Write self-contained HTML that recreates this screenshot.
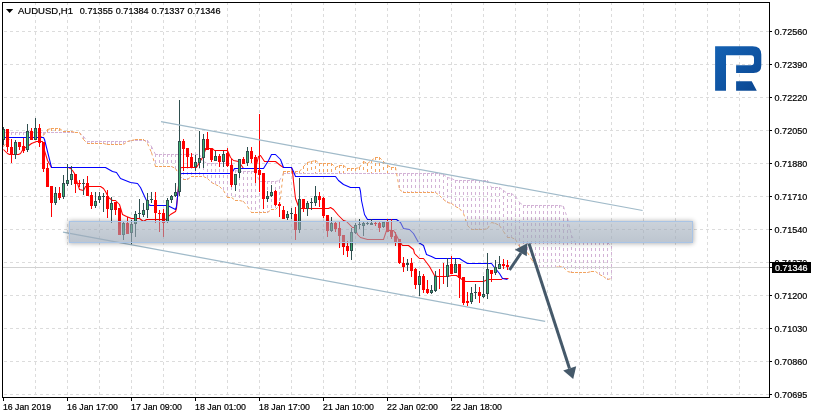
<!DOCTYPE html>
<html><head><meta charset="utf-8"><title>AUDUSD,H1</title>
<style>html,body{margin:0;padding:0;background:#fff}svg{display:block}text{stroke:#000;stroke-width:0.22px;font-family:"Liberation Sans",Arial,sans-serif;font-size:9.6px}</style></head><body>
<svg width="815" height="418" viewBox="0 0 815 418">
<defs>
<linearGradient id="lg" x1="0" y1="0" x2="1" y2="1"><stop offset="0" stop-color="#1461b2"/><stop offset="0.5" stop-color="#0f55a4"/><stop offset="1" stop-color="#0b4690"/></linearGradient>
<filter id="sh" x="-5%" y="-50%" width="110%" height="200%"><feGaussianBlur stdDeviation="2.5"/></filter>
<linearGradient id="rg" x1="0" y1="0" x2="0" y2="1"><stop offset="0" stop-color="rgb(155,168,183)" stop-opacity="0.52"/><stop offset="1" stop-color="rgb(155,168,183)" stop-opacity="0.66"/></linearGradient>
</defs>
<rect width="815" height="418" fill="#fff"/>
<g stroke="#dcdcdc" stroke-width="1" stroke-dasharray="3 3" shape-rendering="crispEdges"><line x1="35.5" y1="2" x2="35.5" y2="397" /><line x1="67.5" y1="2" x2="67.5" y2="397" /><line x1="99.5" y1="2" x2="99.5" y2="397" /><line x1="131.5" y1="2" x2="131.5" y2="397" /><line x1="163.5" y1="2" x2="163.5" y2="397" /><line x1="195.5" y1="2" x2="195.5" y2="397" /><line x1="227.5" y1="2" x2="227.5" y2="397" /><line x1="259.5" y1="2" x2="259.5" y2="397" /><line x1="291.5" y1="2" x2="291.5" y2="397" /><line x1="323.5" y1="2" x2="323.5" y2="397" /><line x1="355.5" y1="2" x2="355.5" y2="397" /><line x1="387.5" y1="2" x2="387.5" y2="397" /><line x1="419.5" y1="2" x2="419.5" y2="397" /><line x1="451.5" y1="2" x2="451.5" y2="397" /><line x1="483.5" y1="2" x2="483.5" y2="397" /><line x1="515.5" y1="2" x2="515.5" y2="397" /><line x1="547.5" y1="2" x2="547.5" y2="397" /><line x1="579.5" y1="2" x2="579.5" y2="397" /><line x1="611.5" y1="2" x2="611.5" y2="397" /><line x1="643.5" y1="2" x2="643.5" y2="397" /><line x1="675.5" y1="2" x2="675.5" y2="397" /><line x1="707.5" y1="2" x2="707.5" y2="397" /><line x1="739.5" y1="2" x2="739.5" y2="397" /><line x1="4" y1="31.5" x2="769" y2="31.5" /><line x1="4" y1="64.5" x2="769" y2="64.5" /><line x1="4" y1="97.5" x2="769" y2="97.5" /><line x1="4" y1="130.5" x2="769" y2="130.5" /><line x1="4" y1="163.5" x2="769" y2="163.5" /><line x1="4" y1="196.5" x2="769" y2="196.5" /><line x1="4" y1="229.5" x2="769" y2="229.5" /><line x1="4" y1="262.5" x2="769" y2="262.5" /><line x1="4" y1="295.5" x2="769" y2="295.5" /><line x1="4" y1="328.5" x2="769" y2="328.5" /><line x1="4" y1="361.5" x2="769" y2="361.5" /><line x1="4" y1="394.5" x2="769" y2="394.5" /></g>
<g stroke="#f2a35e" stroke-width="1" stroke-dasharray="3 3" shape-rendering="crispEdges"><line x1="47.5" y1="129" x2="47.5" y2="133"/><line x1="51.5" y1="128" x2="51.5" y2="133"/><line x1="55.5" y1="128" x2="55.5" y2="133"/><line x1="59.5" y1="128" x2="59.5" y2="133"/><line x1="63.5" y1="131" x2="63.5" y2="133"/><line x1="67.5" y1="131" x2="67.5" y2="133"/><line x1="71.5" y1="131" x2="71.5" y2="133"/><line x1="135.5" y1="139" x2="135.5" y2="141"/><line x1="139.5" y1="139" x2="139.5" y2="141"/><line x1="143.5" y1="139" x2="143.5" y2="141"/><line x1="283.5" y1="171" x2="283.5" y2="174"/><line x1="287.5" y1="171" x2="287.5" y2="174"/><line x1="291.5" y1="171" x2="291.5" y2="174"/><line x1="295.5" y1="171" x2="295.5" y2="174"/><line x1="299.5" y1="171" x2="299.5" y2="174"/><line x1="303.5" y1="166" x2="303.5" y2="174"/><line x1="307.5" y1="162" x2="307.5" y2="174"/><line x1="311.5" y1="161" x2="311.5" y2="174"/><line x1="315.5" y1="160" x2="315.5" y2="174"/><line x1="319.5" y1="163" x2="319.5" y2="174"/><line x1="323.5" y1="163" x2="323.5" y2="174"/><line x1="327.5" y1="163" x2="327.5" y2="174"/><line x1="331.5" y1="163" x2="331.5" y2="174"/><line x1="335.5" y1="167" x2="335.5" y2="174"/><line x1="339.5" y1="165" x2="339.5" y2="174"/><line x1="343.5" y1="165" x2="343.5" y2="174"/><line x1="347.5" y1="168" x2="347.5" y2="174"/><line x1="351.5" y1="168" x2="351.5" y2="174"/><line x1="355.5" y1="168" x2="355.5" y2="174"/><line x1="359.5" y1="167" x2="359.5" y2="174"/><line x1="363.5" y1="161" x2="363.5" y2="174"/><line x1="367.5" y1="163" x2="367.5" y2="174"/><line x1="371.5" y1="160" x2="371.5" y2="174"/><line x1="375.5" y1="157" x2="375.5" y2="174"/><line x1="379.5" y1="157" x2="379.5" y2="174"/><line x1="383.5" y1="161" x2="383.5" y2="174"/><line x1="387.5" y1="165" x2="387.5" y2="174"/><line x1="391.5" y1="167" x2="391.5" y2="174"/><line x1="395.5" y1="167" x2="395.5" y2="174"/></g>
<g stroke="#d3b3d6" stroke-width="1" stroke-dasharray="3 3" shape-rendering="crispEdges"><line x1="3.5" y1="132" x2="3.5" y2="147"/><line x1="7.5" y1="132" x2="7.5" y2="142"/><line x1="11.5" y1="132" x2="11.5" y2="138"/><line x1="15.5" y1="132" x2="15.5" y2="138"/><line x1="19.5" y1="132" x2="19.5" y2="138"/><line x1="23.5" y1="132" x2="23.5" y2="138"/><line x1="27.5" y1="132" x2="27.5" y2="138"/><line x1="31.5" y1="132" x2="31.5" y2="138"/><line x1="35.5" y1="132" x2="35.5" y2="138"/><line x1="39.5" y1="132" x2="39.5" y2="138"/><line x1="43.5" y1="132" x2="43.5" y2="136"/><line x1="83.5" y1="136" x2="83.5" y2="140"/><line x1="87.5" y1="141" x2="87.5" y2="144"/><line x1="91.5" y1="141" x2="91.5" y2="144"/><line x1="95.5" y1="141" x2="95.5" y2="144"/><line x1="99.5" y1="141" x2="99.5" y2="144"/><line x1="103.5" y1="141" x2="103.5" y2="144"/><line x1="107.5" y1="141" x2="107.5" y2="145"/><line x1="111.5" y1="141" x2="111.5" y2="145"/><line x1="115.5" y1="141" x2="115.5" y2="145"/><line x1="119.5" y1="141" x2="119.5" y2="145"/><line x1="123.5" y1="141" x2="123.5" y2="145"/><line x1="147.5" y1="140" x2="147.5" y2="144"/><line x1="151.5" y1="146" x2="151.5" y2="153"/><line x1="155.5" y1="154" x2="155.5" y2="167"/><line x1="159.5" y1="154" x2="159.5" y2="167"/><line x1="163.5" y1="154" x2="163.5" y2="167"/><line x1="167.5" y1="154" x2="167.5" y2="167"/><line x1="171.5" y1="154" x2="171.5" y2="167"/><line x1="175.5" y1="154" x2="175.5" y2="169"/><line x1="179.5" y1="154" x2="179.5" y2="176"/><line x1="183.5" y1="154" x2="183.5" y2="180"/><line x1="187.5" y1="154" x2="187.5" y2="180"/><line x1="191.5" y1="154" x2="191.5" y2="177"/><line x1="195.5" y1="154" x2="195.5" y2="177"/><line x1="199.5" y1="154" x2="199.5" y2="177"/><line x1="203.5" y1="161" x2="203.5" y2="177"/><line x1="207.5" y1="163" x2="207.5" y2="179"/><line x1="211.5" y1="163" x2="211.5" y2="183"/><line x1="215.5" y1="163" x2="215.5" y2="185"/><line x1="219.5" y1="163" x2="219.5" y2="187"/><line x1="223.5" y1="163" x2="223.5" y2="191"/><line x1="227.5" y1="163" x2="227.5" y2="198"/><line x1="231.5" y1="163" x2="231.5" y2="198"/><line x1="235.5" y1="170" x2="235.5" y2="201"/><line x1="239.5" y1="171" x2="239.5" y2="201"/><line x1="243.5" y1="171" x2="243.5" y2="202"/><line x1="247.5" y1="171" x2="247.5" y2="207"/><line x1="251.5" y1="171" x2="251.5" y2="213"/><line x1="255.5" y1="171" x2="255.5" y2="213"/><line x1="259.5" y1="181" x2="259.5" y2="213"/><line x1="263.5" y1="181" x2="263.5" y2="213"/><line x1="267.5" y1="181" x2="267.5" y2="213"/><line x1="271.5" y1="181" x2="271.5" y2="210"/><line x1="275.5" y1="181" x2="275.5" y2="210"/><line x1="279.5" y1="180" x2="279.5" y2="206"/><line x1="399.5" y1="173" x2="399.5" y2="190"/><line x1="403.5" y1="173" x2="403.5" y2="193"/><line x1="407.5" y1="173" x2="407.5" y2="193"/><line x1="411.5" y1="173" x2="411.5" y2="193"/><line x1="415.5" y1="173" x2="415.5" y2="193"/><line x1="419.5" y1="173" x2="419.5" y2="193"/><line x1="423.5" y1="173" x2="423.5" y2="193"/><line x1="427.5" y1="173" x2="427.5" y2="193"/><line x1="431.5" y1="173" x2="431.5" y2="193"/><line x1="435.5" y1="173" x2="435.5" y2="193"/><line x1="439.5" y1="173" x2="439.5" y2="196"/><line x1="443.5" y1="174" x2="443.5" y2="200"/><line x1="447.5" y1="177" x2="447.5" y2="203"/><line x1="451.5" y1="178" x2="451.5" y2="204"/><line x1="455.5" y1="180" x2="455.5" y2="207"/><line x1="459.5" y1="180" x2="459.5" y2="209"/><line x1="463.5" y1="180" x2="463.5" y2="214"/><line x1="467.5" y1="180" x2="467.5" y2="226"/><line x1="471.5" y1="180" x2="471.5" y2="230"/><line x1="475.5" y1="180" x2="475.5" y2="230"/><line x1="479.5" y1="180" x2="479.5" y2="230"/><line x1="483.5" y1="180" x2="483.5" y2="230"/><line x1="487.5" y1="180" x2="487.5" y2="229"/><line x1="491.5" y1="187" x2="491.5" y2="223"/><line x1="495.5" y1="187" x2="495.5" y2="224"/><line x1="499.5" y1="187" x2="499.5" y2="226"/><line x1="503.5" y1="190" x2="503.5" y2="232"/><line x1="507.5" y1="193" x2="507.5" y2="238"/><line x1="511.5" y1="193" x2="511.5" y2="238"/><line x1="515.5" y1="196" x2="515.5" y2="240"/><line x1="519.5" y1="202" x2="519.5" y2="247"/><line x1="523.5" y1="205" x2="523.5" y2="250"/><line x1="527.5" y1="205" x2="527.5" y2="253"/><line x1="531.5" y1="205" x2="531.5" y2="260"/><line x1="535.5" y1="205" x2="535.5" y2="265"/><line x1="539.5" y1="205" x2="539.5" y2="268"/><line x1="543.5" y1="205" x2="543.5" y2="268"/><line x1="547.5" y1="205" x2="547.5" y2="268"/><line x1="551.5" y1="205" x2="551.5" y2="268"/><line x1="555.5" y1="205" x2="555.5" y2="268"/><line x1="559.5" y1="205" x2="559.5" y2="267"/><line x1="563.5" y1="206" x2="563.5" y2="268"/><line x1="567.5" y1="218" x2="567.5" y2="272"/><line x1="571.5" y1="235" x2="571.5" y2="273"/><line x1="575.5" y1="242" x2="575.5" y2="273"/><line x1="579.5" y1="242" x2="579.5" y2="273"/><line x1="583.5" y1="242" x2="583.5" y2="273"/><line x1="587.5" y1="242" x2="587.5" y2="273"/><line x1="591.5" y1="242" x2="591.5" y2="272"/><line x1="595.5" y1="242" x2="595.5" y2="272"/><line x1="599.5" y1="242" x2="599.5" y2="275"/><line x1="603.5" y1="242" x2="603.5" y2="277"/><line x1="607.5" y1="242" x2="607.5" y2="280"/><line x1="611.5" y1="246" x2="611.5" y2="279"/></g>
<g stroke="#d3b3d6" stroke-width="1" stroke-dasharray="3 3" fill="none"><line x1="3" y1="132.5" x2="7" y2="132.5"/><line x1="7" y1="132.5" x2="11" y2="132.5"/><line x1="11" y1="132.5" x2="15" y2="132.5"/><line x1="15" y1="132.5" x2="19" y2="132.5"/><line x1="19" y1="132.5" x2="23" y2="132.5"/><line x1="23" y1="132.5" x2="27" y2="132.5"/><line x1="27" y1="132.5" x2="31" y2="132.5"/><line x1="31" y1="132.5" x2="35" y2="132.5"/><line x1="35" y1="132.5" x2="39" y2="132.5"/><line x1="39" y1="132.5" x2="43" y2="132.5"/><line x1="43" y1="132.5" x2="47" y2="132.5"/><line x1="47" y1="132.5" x2="51" y2="132.5"/><line x1="51" y1="132.5" x2="55" y2="132.5"/><line x1="55" y1="132.5" x2="59" y2="132.5"/><line x1="59" y1="132.5" x2="63" y2="132.5"/><line x1="63" y1="132.5" x2="67" y2="132.5"/><line x1="67" y1="132.5" x2="71" y2="132.5"/><line x1="71" y1="132.5" x2="75" y2="132.5"/><line x1="75" y1="132.5" x2="79" y2="132.5"/><line x1="79.5" y1="132.5" x2="83.5" y2="136.5"/><line x1="83.5" y1="136.5" x2="87.5" y2="141.5"/><line x1="87" y1="141.5" x2="91" y2="141.5"/><line x1="91" y1="141.5" x2="95" y2="141.5"/><line x1="95" y1="141.5" x2="99" y2="141.5"/><line x1="99" y1="141.5" x2="103" y2="141.5"/><line x1="103" y1="141.5" x2="107" y2="141.5"/><line x1="107" y1="141.5" x2="111" y2="141.5"/><line x1="111" y1="141.5" x2="115" y2="141.5"/><line x1="115" y1="141.5" x2="119" y2="141.5"/><line x1="119" y1="141.5" x2="123" y2="141.5"/><line x1="123" y1="141.5" x2="127" y2="141.5"/><line x1="127.5" y1="141.5" x2="131.5" y2="140.5"/><line x1="131" y1="140.5" x2="135" y2="140.5"/><line x1="135" y1="140.5" x2="139" y2="140.5"/><line x1="139" y1="140.5" x2="143" y2="140.5"/><line x1="143" y1="140.5" x2="147" y2="140.5"/><line x1="147.5" y1="140.5" x2="151.5" y2="146.5"/><line x1="151.5" y1="146.5" x2="155.5" y2="154.5"/><line x1="155" y1="154.5" x2="159" y2="154.5"/><line x1="159" y1="154.5" x2="163" y2="154.5"/><line x1="163" y1="154.5" x2="167" y2="154.5"/><line x1="167" y1="154.5" x2="171" y2="154.5"/><line x1="171" y1="154.5" x2="175" y2="154.5"/><line x1="175" y1="154.5" x2="179" y2="154.5"/><line x1="179" y1="154.5" x2="183" y2="154.5"/><line x1="183" y1="154.5" x2="187" y2="154.5"/><line x1="187" y1="154.5" x2="191" y2="154.5"/><line x1="191" y1="154.5" x2="195" y2="154.5"/><line x1="195" y1="154.5" x2="199" y2="154.5"/><line x1="199.5" y1="154.5" x2="203.5" y2="161.5"/><line x1="203.5" y1="161.5" x2="207.5" y2="163.5"/><line x1="207" y1="163.5" x2="211" y2="163.5"/><line x1="211" y1="163.5" x2="215" y2="163.5"/><line x1="215" y1="163.5" x2="219" y2="163.5"/><line x1="219" y1="163.5" x2="223" y2="163.5"/><line x1="223" y1="163.5" x2="227" y2="163.5"/><line x1="227" y1="163.5" x2="231" y2="163.5"/><line x1="231.5" y1="163.5" x2="235.5" y2="170.5"/><line x1="235.5" y1="170.5" x2="239.5" y2="171.5"/><line x1="239" y1="171.5" x2="243" y2="171.5"/><line x1="243" y1="171.5" x2="247" y2="171.5"/><line x1="247" y1="171.5" x2="251" y2="171.5"/><line x1="251" y1="171.5" x2="255" y2="171.5"/><line x1="255.5" y1="171.5" x2="259.5" y2="181.5"/><line x1="259" y1="181.5" x2="263" y2="181.5"/><line x1="263" y1="181.5" x2="267" y2="181.5"/><line x1="267" y1="181.5" x2="271" y2="181.5"/><line x1="271" y1="181.5" x2="275" y2="181.5"/><line x1="275.5" y1="181.5" x2="279.5" y2="180.5"/><line x1="279.5" y1="180.5" x2="283.5" y2="173.5"/><line x1="283" y1="173.5" x2="287" y2="173.5"/><line x1="287" y1="173.5" x2="291" y2="173.5"/><line x1="291" y1="173.5" x2="295" y2="173.5"/><line x1="295" y1="173.5" x2="299" y2="173.5"/><line x1="299" y1="173.5" x2="303" y2="173.5"/><line x1="303" y1="173.5" x2="307" y2="173.5"/><line x1="307" y1="173.5" x2="311" y2="173.5"/><line x1="311" y1="173.5" x2="315" y2="173.5"/><line x1="315" y1="173.5" x2="319" y2="173.5"/><line x1="319" y1="173.5" x2="323" y2="173.5"/><line x1="323" y1="173.5" x2="327" y2="173.5"/><line x1="327" y1="173.5" x2="331" y2="173.5"/><line x1="331" y1="173.5" x2="335" y2="173.5"/><line x1="335" y1="173.5" x2="339" y2="173.5"/><line x1="339" y1="173.5" x2="343" y2="173.5"/><line x1="343" y1="173.5" x2="347" y2="173.5"/><line x1="347" y1="173.5" x2="351" y2="173.5"/><line x1="351" y1="173.5" x2="355" y2="173.5"/><line x1="355" y1="173.5" x2="359" y2="173.5"/><line x1="359" y1="173.5" x2="363" y2="173.5"/><line x1="363" y1="173.5" x2="367" y2="173.5"/><line x1="367" y1="173.5" x2="371" y2="173.5"/><line x1="371" y1="173.5" x2="375" y2="173.5"/><line x1="375" y1="173.5" x2="379" y2="173.5"/><line x1="379" y1="173.5" x2="383" y2="173.5"/><line x1="383" y1="173.5" x2="387" y2="173.5"/><line x1="387" y1="173.5" x2="391" y2="173.5"/><line x1="391" y1="173.5" x2="395" y2="173.5"/><line x1="395" y1="173.5" x2="399" y2="173.5"/><line x1="399" y1="173.5" x2="403" y2="173.5"/><line x1="403" y1="173.5" x2="407" y2="173.5"/><line x1="407" y1="173.5" x2="411" y2="173.5"/><line x1="411" y1="173.5" x2="415" y2="173.5"/><line x1="415" y1="173.5" x2="419" y2="173.5"/><line x1="419" y1="173.5" x2="423" y2="173.5"/><line x1="423" y1="173.5" x2="427" y2="173.5"/><line x1="427" y1="173.5" x2="431" y2="173.5"/><line x1="431" y1="173.5" x2="435" y2="173.5"/><line x1="435" y1="173.5" x2="439" y2="173.5"/><line x1="439.5" y1="173.5" x2="443.5" y2="174.5"/><line x1="443.5" y1="174.5" x2="447.5" y2="177.5"/><line x1="447.5" y1="177.5" x2="451.5" y2="178.5"/><line x1="451.5" y1="178.5" x2="455.5" y2="180.5"/><line x1="455" y1="180.5" x2="459" y2="180.5"/><line x1="459" y1="180.5" x2="463" y2="180.5"/><line x1="463" y1="180.5" x2="467" y2="180.5"/><line x1="467" y1="180.5" x2="471" y2="180.5"/><line x1="471" y1="180.5" x2="475" y2="180.5"/><line x1="475" y1="180.5" x2="479" y2="180.5"/><line x1="479" y1="180.5" x2="483" y2="180.5"/><line x1="483" y1="180.5" x2="487" y2="180.5"/><line x1="487.5" y1="180.5" x2="491.5" y2="187.5"/><line x1="491" y1="187.5" x2="495" y2="187.5"/><line x1="495" y1="187.5" x2="499" y2="187.5"/><line x1="499.5" y1="187.5" x2="503.5" y2="190.5"/><line x1="503.5" y1="190.5" x2="507.5" y2="193.5"/><line x1="507" y1="193.5" x2="511" y2="193.5"/><line x1="511.5" y1="193.5" x2="515.5" y2="196.5"/><line x1="515.5" y1="196.5" x2="519.5" y2="202.5"/><line x1="519.5" y1="202.5" x2="523.5" y2="205.5"/><line x1="523" y1="205.5" x2="527" y2="205.5"/><line x1="527" y1="205.5" x2="531" y2="205.5"/><line x1="531" y1="205.5" x2="535" y2="205.5"/><line x1="535" y1="205.5" x2="539" y2="205.5"/><line x1="539" y1="205.5" x2="543" y2="205.5"/><line x1="543" y1="205.5" x2="547" y2="205.5"/><line x1="547" y1="205.5" x2="551" y2="205.5"/><line x1="551" y1="205.5" x2="555" y2="205.5"/><line x1="555" y1="205.5" x2="559" y2="205.5"/><line x1="559.5" y1="205.5" x2="563.5" y2="206.5"/><line x1="563.5" y1="206.5" x2="567.5" y2="218.5"/><line x1="567.5" y1="218.5" x2="571.5" y2="235.5"/><line x1="571.5" y1="235.5" x2="575.5" y2="242.5"/><line x1="575" y1="242.5" x2="579" y2="242.5"/><line x1="579" y1="242.5" x2="583" y2="242.5"/><line x1="583" y1="242.5" x2="587" y2="242.5"/><line x1="587" y1="242.5" x2="591" y2="242.5"/><line x1="591" y1="242.5" x2="595" y2="242.5"/><line x1="595" y1="242.5" x2="599" y2="242.5"/><line x1="599" y1="242.5" x2="603" y2="242.5"/><line x1="603" y1="242.5" x2="607" y2="242.5"/><line x1="607.5" y1="242.5" x2="611.5" y2="246.5"/></g>
<g stroke="#f2a35e" stroke-width="1" stroke-dasharray="3 3" fill="none"><line x1="3.5" y1="146.5" x2="7.5" y2="141.5"/><line x1="7.5" y1="141.5" x2="11.5" y2="137.5"/><line x1="11" y1="137.5" x2="15" y2="137.5"/><line x1="15" y1="137.5" x2="19" y2="137.5"/><line x1="19" y1="137.5" x2="23" y2="137.5"/><line x1="23" y1="137.5" x2="27" y2="137.5"/><line x1="27" y1="137.5" x2="31" y2="137.5"/><line x1="31" y1="137.5" x2="35" y2="137.5"/><line x1="35" y1="137.5" x2="39" y2="137.5"/><line x1="39.5" y1="137.5" x2="43.5" y2="135.5"/><line x1="43.5" y1="135.5" x2="47.5" y2="129.5"/><line x1="47.5" y1="129.5" x2="51.5" y2="128.5"/><line x1="51" y1="128.5" x2="55" y2="128.5"/><line x1="55" y1="128.5" x2="59" y2="128.5"/><line x1="59.5" y1="128.5" x2="63.5" y2="131.5"/><line x1="63" y1="131.5" x2="67" y2="131.5"/><line x1="67" y1="131.5" x2="71" y2="131.5"/><line x1="71.5" y1="131.5" x2="75.5" y2="132.5"/><line x1="75" y1="132.5" x2="79" y2="132.5"/><line x1="79.5" y1="132.5" x2="83.5" y2="139.5"/><line x1="83.5" y1="139.5" x2="87.5" y2="143.5"/><line x1="87" y1="143.5" x2="91" y2="143.5"/><line x1="91" y1="143.5" x2="95" y2="143.5"/><line x1="95" y1="143.5" x2="99" y2="143.5"/><line x1="99" y1="143.5" x2="103" y2="143.5"/><line x1="103.5" y1="143.5" x2="107.5" y2="144.5"/><line x1="107" y1="144.5" x2="111" y2="144.5"/><line x1="111" y1="144.5" x2="115" y2="144.5"/><line x1="115" y1="144.5" x2="119" y2="144.5"/><line x1="119" y1="144.5" x2="123" y2="144.5"/><line x1="123.5" y1="144.5" x2="127.5" y2="141.5"/><line x1="127.5" y1="141.5" x2="131.5" y2="140.5"/><line x1="131.5" y1="140.5" x2="135.5" y2="139.5"/><line x1="135" y1="139.5" x2="139" y2="139.5"/><line x1="139" y1="139.5" x2="143" y2="139.5"/><line x1="143.5" y1="139.5" x2="147.5" y2="143.5"/><line x1="147.5" y1="143.5" x2="151.5" y2="152.5"/><line x1="151.5" y1="152.5" x2="155.5" y2="166.5"/><line x1="155" y1="166.5" x2="159" y2="166.5"/><line x1="159" y1="166.5" x2="163" y2="166.5"/><line x1="163" y1="166.5" x2="167" y2="166.5"/><line x1="167" y1="166.5" x2="171" y2="166.5"/><line x1="171.5" y1="166.5" x2="175.5" y2="168.5"/><line x1="175.5" y1="168.5" x2="179.5" y2="175.5"/><line x1="179.5" y1="175.5" x2="183.5" y2="179.5"/><line x1="183" y1="179.5" x2="187" y2="179.5"/><line x1="187.5" y1="179.5" x2="191.5" y2="176.5"/><line x1="191" y1="176.5" x2="195" y2="176.5"/><line x1="195" y1="176.5" x2="199" y2="176.5"/><line x1="199" y1="176.5" x2="203" y2="176.5"/><line x1="203.5" y1="176.5" x2="207.5" y2="178.5"/><line x1="207.5" y1="178.5" x2="211.5" y2="182.5"/><line x1="211.5" y1="182.5" x2="215.5" y2="184.5"/><line x1="215.5" y1="184.5" x2="219.5" y2="186.5"/><line x1="219.5" y1="186.5" x2="223.5" y2="190.5"/><line x1="223.5" y1="190.5" x2="227.5" y2="197.5"/><line x1="227" y1="197.5" x2="231" y2="197.5"/><line x1="231.5" y1="197.5" x2="235.5" y2="200.5"/><line x1="235" y1="200.5" x2="239" y2="200.5"/><line x1="239.5" y1="200.5" x2="243.5" y2="201.5"/><line x1="243.5" y1="201.5" x2="247.5" y2="206.5"/><line x1="247.5" y1="206.5" x2="251.5" y2="212.5"/><line x1="251" y1="212.5" x2="255" y2="212.5"/><line x1="255" y1="212.5" x2="259" y2="212.5"/><line x1="259" y1="212.5" x2="263" y2="212.5"/><line x1="263" y1="212.5" x2="267" y2="212.5"/><line x1="267.5" y1="212.5" x2="271.5" y2="209.5"/><line x1="271" y1="209.5" x2="275" y2="209.5"/><line x1="275.5" y1="209.5" x2="279.5" y2="205.5"/><line x1="279.5" y1="205.5" x2="283.5" y2="171.5"/><line x1="283" y1="171.5" x2="287" y2="171.5"/><line x1="287" y1="171.5" x2="291" y2="171.5"/><line x1="291" y1="171.5" x2="295" y2="171.5"/><line x1="295" y1="171.5" x2="299" y2="171.5"/><line x1="299.5" y1="171.5" x2="303.5" y2="166.5"/><line x1="303.5" y1="166.5" x2="307.5" y2="162.5"/><line x1="307.5" y1="162.5" x2="311.5" y2="161.5"/><line x1="311.5" y1="161.5" x2="315.5" y2="160.5"/><line x1="315.5" y1="160.5" x2="319.5" y2="163.5"/><line x1="319" y1="163.5" x2="323" y2="163.5"/><line x1="323" y1="163.5" x2="327" y2="163.5"/><line x1="327" y1="163.5" x2="331" y2="163.5"/><line x1="331.5" y1="163.5" x2="335.5" y2="167.5"/><line x1="335.5" y1="167.5" x2="339.5" y2="165.5"/><line x1="339" y1="165.5" x2="343" y2="165.5"/><line x1="343.5" y1="165.5" x2="347.5" y2="168.5"/><line x1="347" y1="168.5" x2="351" y2="168.5"/><line x1="351" y1="168.5" x2="355" y2="168.5"/><line x1="355.5" y1="168.5" x2="359.5" y2="167.5"/><line x1="359.5" y1="167.5" x2="363.5" y2="161.5"/><line x1="363.5" y1="161.5" x2="367.5" y2="163.5"/><line x1="367.5" y1="163.5" x2="371.5" y2="160.5"/><line x1="371.5" y1="160.5" x2="375.5" y2="157.5"/><line x1="375" y1="157.5" x2="379" y2="157.5"/><line x1="379.5" y1="157.5" x2="383.5" y2="161.5"/><line x1="383.5" y1="161.5" x2="387.5" y2="165.5"/><line x1="387.5" y1="165.5" x2="391.5" y2="167.5"/><line x1="391" y1="167.5" x2="395" y2="167.5"/><line x1="395.5" y1="167.5" x2="399.5" y2="189.5"/><line x1="399.5" y1="189.5" x2="403.5" y2="192.5"/><line x1="403" y1="192.5" x2="407" y2="192.5"/><line x1="407" y1="192.5" x2="411" y2="192.5"/><line x1="411" y1="192.5" x2="415" y2="192.5"/><line x1="415" y1="192.5" x2="419" y2="192.5"/><line x1="419" y1="192.5" x2="423" y2="192.5"/><line x1="423" y1="192.5" x2="427" y2="192.5"/><line x1="427" y1="192.5" x2="431" y2="192.5"/><line x1="431" y1="192.5" x2="435" y2="192.5"/><line x1="435.5" y1="192.5" x2="439.5" y2="195.5"/><line x1="439.5" y1="195.5" x2="443.5" y2="199.5"/><line x1="443.5" y1="199.5" x2="447.5" y2="202.5"/><line x1="447.5" y1="202.5" x2="451.5" y2="203.5"/><line x1="451.5" y1="203.5" x2="455.5" y2="206.5"/><line x1="455.5" y1="206.5" x2="459.5" y2="208.5"/><line x1="459.5" y1="208.5" x2="463.5" y2="213.5"/><line x1="463.5" y1="213.5" x2="467.5" y2="225.5"/><line x1="467.5" y1="225.5" x2="471.5" y2="229.5"/><line x1="471" y1="229.5" x2="475" y2="229.5"/><line x1="475" y1="229.5" x2="479" y2="229.5"/><line x1="479" y1="229.5" x2="483" y2="229.5"/><line x1="483.5" y1="229.5" x2="487.5" y2="228.5"/><line x1="487.5" y1="228.5" x2="491.5" y2="222.5"/><line x1="491.5" y1="222.5" x2="495.5" y2="223.5"/><line x1="495.5" y1="223.5" x2="499.5" y2="225.5"/><line x1="499.5" y1="225.5" x2="503.5" y2="231.5"/><line x1="503.5" y1="231.5" x2="507.5" y2="237.5"/><line x1="507" y1="237.5" x2="511" y2="237.5"/><line x1="511.5" y1="237.5" x2="515.5" y2="239.5"/><line x1="515.5" y1="239.5" x2="519.5" y2="246.5"/><line x1="519.5" y1="246.5" x2="523.5" y2="249.5"/><line x1="523.5" y1="249.5" x2="527.5" y2="252.5"/><line x1="527.5" y1="252.5" x2="531.5" y2="259.5"/><line x1="531.5" y1="259.5" x2="535.5" y2="264.5"/><line x1="535.5" y1="264.5" x2="539.5" y2="267.5"/><line x1="539" y1="267.5" x2="543" y2="267.5"/><line x1="543" y1="267.5" x2="547" y2="267.5"/><line x1="547" y1="267.5" x2="551" y2="267.5"/><line x1="551" y1="267.5" x2="555" y2="267.5"/><line x1="555.5" y1="267.5" x2="559.5" y2="266.5"/><line x1="559.5" y1="266.5" x2="563.5" y2="267.5"/><line x1="563.5" y1="267.5" x2="567.5" y2="271.5"/><line x1="567.5" y1="271.5" x2="571.5" y2="272.5"/><line x1="571" y1="272.5" x2="575" y2="272.5"/><line x1="575" y1="272.5" x2="579" y2="272.5"/><line x1="579" y1="272.5" x2="583" y2="272.5"/><line x1="583" y1="272.5" x2="587" y2="272.5"/><line x1="587.5" y1="272.5" x2="591.5" y2="271.5"/><line x1="591" y1="271.5" x2="595" y2="271.5"/><line x1="595.5" y1="271.5" x2="599.5" y2="274.5"/><line x1="599.5" y1="274.5" x2="603.5" y2="276.5"/><line x1="603.5" y1="276.5" x2="607.5" y2="279.5"/><line x1="607.5" y1="279.5" x2="611.5" y2="278.5"/></g>
<line x1="3" y1="267.5" x2="769" y2="267.5" stroke="#d2d2d2" stroke-width="1" shape-rendering="crispEdges"/>
<polyline points="3.5,149.5 7.5,153.5 9.5,154.5 18.5,154.5 20.5,153.5 23.5,148.5 27.5,146.5 31.5,143.5 36.5,141.5 42.5,141.5 44.5,150.5 47.5,160.5 51.5,167.5 68.5,167.5 70.5,168.5 72.5,170.5 74.5,173.5 77.5,183.5 79.5,189.5 83.5,190.5 85.5,186.5 100.5,186.5 103.5,188.5 105.5,191.5 108.5,197.5 112.5,200.5 115.5,200.5 119.5,204.5 122.5,214.5 126.5,216.5 131.5,218.5 139.5,218.5 143.5,221.5 146.5,219.5 165.5,219.5 170.5,214.5 175.5,211.5 176.5,208.5 178.5,185.5 179.5,169.5 181.5,167.5 196.5,167.5 199.5,162.5 202.5,157.5 205.5,149.5 205.5,148.5 212.5,148.5 214.5,150.5 227.5,150.5 230.5,157.5 233.5,160.5 238.5,161.5 241.5,165.5 243.5,168.5 255.5,168.5 258.5,156.5 260.5,155.5 264.5,161.5 275.5,161.5 280.5,165.5 283.5,167.5 291.5,167.5 292.5,171.5 293.5,181.5 295.5,198.5 298.5,206.5 300.5,208.5 328.5,208.5 330.5,207.5 333.5,209.5 338.5,215.5 343.5,220.5 346.5,221.5 352.5,227.5 354.5,227.5 357.5,234.5 360.5,237.5 367.5,239.5 383.5,239.5 385.5,233.5 386.5,230.5 393.5,230.5 395.5,233.5 399.5,241.5 402.5,245.5 408.5,245.5 413.5,249.5 414.5,253.5 419.5,258.5 423.5,258.5 426.5,262.5 429.5,266.5 434.5,275.5 437.5,276.5 447.5,276.5 451.5,275.5 456.5,275.5 460.5,278.5 465.5,281.5 483.5,281.5 487.5,279.5 501.5,279.5 502.5,278.5 508.5,278.5" fill="none" stroke="#ff0000" stroke-width="1.05" stroke-linejoin="round"/>
<polyline points="3.5,137.5 43.5,137.5 44.5,139.5 49.5,159.5 51.5,167.5 105.5,167.5 112.5,171.5 116.5,172.5 120.5,178.5 125.5,180.5 130.5,182.5 137.5,183.5 140.5,187.5 145.5,198.5 148.5,204.5 150.5,205.5 167.5,205.5 175.5,209.5 176.5,206.5 177.5,196.5 178.5,188.5 179.5,175.5 181.5,173.5 231.5,173.5 234.5,168.5 263.5,168.5 268.5,160.5 271.5,154.5 275.5,154.5 276.5,155.5 280.5,159.5 283.5,167.5 291.5,167.5 293.5,171.5 295.5,176.5 335.5,176.5 338.5,180.5 343.5,184.5 350.5,187.5 359.5,187.5 360.5,191.5 361.5,200.5 364.5,214.5 367.5,219.5 396.5,219.5 400.5,222.5 403.5,228.5 409.5,229.5 413.5,233.5 418.5,242.5 423.5,245.5 426.5,254.5 431.5,256.5 435.5,258.5 459.5,258.5 462.5,260.5 467.5,263.5 491.5,263.5 494.5,267.5 499.5,273.5 502.5,278.5 507.5,279.5" fill="none" stroke="#0000ff" stroke-width="1.05" stroke-linejoin="round"/>
<g shape-rendering="crispEdges"><rect x="3" y="127" width="1" height="18" fill="#2f4f4f"/><rect x="2" y="129" width="3" height="11" fill="#2f4f4f"/><rect x="2.6" y="130" width="1.8" height="9" fill="#3cb371"/><rect x="7" y="129" width="1" height="23" fill="#ff0000"/><rect x="6" y="129" width="3" height="18" fill="#ff0000"/><rect x="11" y="139" width="1" height="24" fill="#ff0000"/><rect x="10" y="147" width="3" height="8" fill="#ff0000"/><rect x="15" y="140" width="1" height="19" fill="#2f4f4f"/><rect x="14" y="142" width="3" height="13" fill="#2f4f4f"/><rect x="14.6" y="143" width="1.8" height="11" fill="#3cb371"/><rect x="19" y="142" width="1" height="8" fill="#ff0000"/><rect x="18" y="142" width="3" height="5" fill="#ff0000"/><rect x="23" y="138" width="1" height="15" fill="#ff0000"/><rect x="22" y="146" width="3" height="5" fill="#ff0000"/><rect x="27" y="124" width="1" height="28" fill="#2f4f4f"/><rect x="26" y="131" width="3" height="19" fill="#2f4f4f"/><rect x="26.6" y="132" width="1.8" height="17" fill="#3cb371"/><rect x="31" y="128" width="1" height="12" fill="#ff0000"/><rect x="30" y="131" width="3" height="9" fill="#ff0000"/><rect x="35" y="118" width="1" height="22" fill="#2f4f4f"/><rect x="34" y="128" width="3" height="12" fill="#2f4f4f"/><rect x="34.6" y="129" width="1.8" height="10" fill="#3cb371"/><rect x="39" y="124" width="1" height="23" fill="#ff0000"/><rect x="38" y="128" width="3" height="15" fill="#ff0000"/><rect x="43" y="142" width="1" height="30" fill="#ff0000"/><rect x="42" y="142" width="3" height="27" fill="#ff0000"/><rect x="47" y="163" width="1" height="24" fill="#ff0000"/><rect x="46" y="168" width="3" height="19" fill="#ff0000"/><rect x="51" y="186" width="1" height="31" fill="#ff0000"/><rect x="50" y="186" width="3" height="17" fill="#ff0000"/><rect x="55" y="187" width="1" height="18" fill="#2f4f4f"/><rect x="54" y="193" width="3" height="10" fill="#2f4f4f"/><rect x="54.6" y="194" width="1.8" height="8" fill="#3cb371"/><rect x="59" y="187" width="1" height="13" fill="#ff0000"/><rect x="58" y="193" width="3" height="5" fill="#ff0000"/><rect x="63" y="175" width="1" height="24" fill="#2f4f4f"/><rect x="62" y="183" width="3" height="14" fill="#2f4f4f"/><rect x="62.6" y="184" width="1.8" height="12" fill="#3cb371"/><rect x="67" y="164" width="1" height="22" fill="#2f4f4f"/><rect x="66" y="180" width="3" height="4" fill="#2f4f4f"/><rect x="66.6" y="181" width="1.8" height="2" fill="#3cb371"/><rect x="71" y="166" width="1" height="19" fill="#2f4f4f"/><rect x="70" y="174" width="3" height="6" fill="#2f4f4f"/><rect x="70.6" y="175" width="1.8" height="4" fill="#3cb371"/><rect x="75" y="174" width="1" height="19" fill="#ff0000"/><rect x="74" y="174" width="3" height="10" fill="#ff0000"/><rect x="79" y="180" width="1" height="7" fill="#ff0000"/><rect x="78" y="183" width="3" height="1" fill="#ff0000"/><rect x="83" y="179" width="1" height="16" fill="#2f4f4f"/><rect x="82" y="183" width="3" height="1" fill="#2f4f4f"/><rect x="87" y="176" width="1" height="20" fill="#ff0000"/><rect x="86" y="183" width="3" height="13" fill="#ff0000"/><rect x="91" y="192" width="1" height="17" fill="#ff0000"/><rect x="90" y="195" width="3" height="11" fill="#ff0000"/><rect x="95" y="192" width="1" height="16" fill="#2f4f4f"/><rect x="94" y="201" width="3" height="5" fill="#2f4f4f"/><rect x="94.6" y="202" width="1.8" height="3" fill="#3cb371"/><rect x="99" y="192" width="1" height="11" fill="#2f4f4f"/><rect x="98" y="196" width="3" height="4" fill="#2f4f4f"/><rect x="98.6" y="197" width="1.8" height="2" fill="#3cb371"/><rect x="103" y="193" width="1" height="19" fill="#2f4f4f"/><rect x="102" y="196" width="3" height="1" fill="#2f4f4f"/><rect x="107" y="190" width="1" height="28" fill="#ff0000"/><rect x="106" y="196" width="3" height="13" fill="#ff0000"/><rect x="111" y="197" width="1" height="26" fill="#2f4f4f"/><rect x="110" y="203" width="3" height="7" fill="#2f4f4f"/><rect x="110.6" y="204" width="1.8" height="5" fill="#3cb371"/><rect x="115" y="202" width="1" height="13" fill="#ff0000"/><rect x="114" y="202" width="3" height="8" fill="#ff0000"/><rect x="119" y="208" width="1" height="27" fill="#ff0000"/><rect x="118" y="208" width="3" height="27" fill="#ff0000"/><rect x="123" y="222" width="1" height="18" fill="#2f4f4f"/><rect x="122" y="223" width="3" height="12" fill="#2f4f4f"/><rect x="122.6" y="224" width="1.8" height="10" fill="#3cb371"/><rect x="127" y="217" width="1" height="17" fill="#ff0000"/><rect x="126" y="223" width="3" height="11" fill="#ff0000"/><rect x="131" y="220" width="1" height="25" fill="#2f4f4f"/><rect x="130" y="224" width="3" height="9" fill="#2f4f4f"/><rect x="130.6" y="225" width="1.8" height="7" fill="#3cb371"/><rect x="135" y="211" width="1" height="26" fill="#2f4f4f"/><rect x="134" y="214" width="3" height="10" fill="#2f4f4f"/><rect x="134.6" y="215" width="1.8" height="8" fill="#3cb371"/><rect x="139" y="199" width="1" height="19" fill="#2f4f4f"/><rect x="138" y="213" width="3" height="1" fill="#2f4f4f"/><rect x="143" y="203" width="1" height="14" fill="#2f4f4f"/><rect x="142" y="210" width="3" height="5" fill="#2f4f4f"/><rect x="142.6" y="211" width="1.8" height="3" fill="#3cb371"/><rect x="147" y="193" width="1" height="25" fill="#2f4f4f"/><rect x="146" y="200" width="3" height="10" fill="#2f4f4f"/><rect x="146.6" y="201" width="1.8" height="8" fill="#3cb371"/><rect x="151" y="192" width="1" height="11" fill="#2f4f4f"/><rect x="150" y="199" width="3" height="1" fill="#2f4f4f"/><rect x="155" y="192" width="1" height="31" fill="#ff0000"/><rect x="154" y="200" width="3" height="13" fill="#ff0000"/><rect x="159" y="210" width="1" height="22" fill="#ff0000"/><rect x="158" y="213" width="3" height="1" fill="#ff0000"/><rect x="163" y="209" width="1" height="28" fill="#ff0000"/><rect x="162" y="213" width="3" height="10" fill="#ff0000"/><rect x="167" y="198" width="1" height="25" fill="#2f4f4f"/><rect x="166" y="200" width="3" height="22" fill="#2f4f4f"/><rect x="166.6" y="201" width="1.8" height="20" fill="#3cb371"/><rect x="171" y="195" width="1" height="8" fill="#2f4f4f"/><rect x="170" y="196" width="3" height="4" fill="#2f4f4f"/><rect x="170.6" y="197" width="1.8" height="2" fill="#3cb371"/><rect x="175" y="183" width="1" height="14" fill="#2f4f4f"/><rect x="174" y="192" width="3" height="4" fill="#2f4f4f"/><rect x="174.6" y="193" width="1.8" height="2" fill="#3cb371"/><rect x="179" y="100" width="1" height="96" fill="#2f4f4f"/><rect x="178" y="141" width="3" height="51" fill="#2f4f4f"/><rect x="178.6" y="142" width="1.8" height="49" fill="#3cb371"/><rect x="183" y="139" width="1" height="32" fill="#ff0000"/><rect x="182" y="141" width="3" height="8" fill="#ff0000"/><rect x="187" y="148" width="1" height="20" fill="#ff0000"/><rect x="186" y="148" width="3" height="9" fill="#ff0000"/><rect x="191" y="153" width="1" height="15" fill="#ff0000"/><rect x="190" y="157" width="3" height="11" fill="#ff0000"/><rect x="195" y="155" width="1" height="16" fill="#2f4f4f"/><rect x="194" y="162" width="3" height="5" fill="#2f4f4f"/><rect x="194.6" y="163" width="1.8" height="3" fill="#3cb371"/><rect x="199" y="131" width="1" height="37" fill="#2f4f4f"/><rect x="198" y="158" width="3" height="5" fill="#2f4f4f"/><rect x="198.6" y="159" width="1.8" height="3" fill="#3cb371"/><rect x="203" y="134" width="1" height="34" fill="#2f4f4f"/><rect x="202" y="139" width="3" height="19" fill="#2f4f4f"/><rect x="202.6" y="140" width="1.8" height="17" fill="#3cb371"/><rect x="207" y="132" width="1" height="18" fill="#ff0000"/><rect x="206" y="139" width="3" height="11" fill="#ff0000"/><rect x="211" y="149" width="1" height="13" fill="#ff0000"/><rect x="210" y="149" width="3" height="11" fill="#ff0000"/><rect x="215" y="151" width="1" height="10" fill="#2f4f4f"/><rect x="214" y="156" width="3" height="5" fill="#2f4f4f"/><rect x="214.6" y="157" width="1.8" height="3" fill="#3cb371"/><rect x="219" y="154" width="1" height="13" fill="#ff0000"/><rect x="218" y="156" width="3" height="6" fill="#ff0000"/><rect x="223" y="151" width="1" height="16" fill="#2f4f4f"/><rect x="222" y="154" width="3" height="8" fill="#2f4f4f"/><rect x="222.6" y="155" width="1.8" height="6" fill="#3cb371"/><rect x="227" y="148" width="1" height="19" fill="#ff0000"/><rect x="226" y="153" width="3" height="13" fill="#ff0000"/><rect x="231" y="159" width="1" height="28" fill="#ff0000"/><rect x="230" y="165" width="3" height="20" fill="#ff0000"/><rect x="235" y="174" width="1" height="17" fill="#2f4f4f"/><rect x="234" y="174" width="3" height="11" fill="#2f4f4f"/><rect x="234.6" y="175" width="1.8" height="9" fill="#3cb371"/><rect x="239" y="159" width="1" height="19" fill="#2f4f4f"/><rect x="238" y="159" width="3" height="14" fill="#2f4f4f"/><rect x="238.6" y="160" width="1.8" height="12" fill="#3cb371"/><rect x="243" y="157" width="1" height="7" fill="#ff0000"/><rect x="242" y="159" width="3" height="5" fill="#ff0000"/><rect x="247" y="147" width="1" height="19" fill="#2f4f4f"/><rect x="246" y="151" width="3" height="12" fill="#2f4f4f"/><rect x="246.6" y="152" width="1.8" height="10" fill="#3cb371"/><rect x="251" y="147" width="1" height="16" fill="#ff0000"/><rect x="250" y="151" width="3" height="8" fill="#ff0000"/><rect x="255" y="155" width="1" height="28" fill="#ff0000"/><rect x="254" y="157" width="3" height="16" fill="#ff0000"/><rect x="259" y="114" width="1" height="78" fill="#ff0000"/><rect x="258" y="170" width="3" height="5" fill="#ff0000"/><rect x="263" y="173" width="1" height="36" fill="#ff0000"/><rect x="262" y="173" width="3" height="26" fill="#ff0000"/><rect x="267" y="191" width="1" height="11" fill="#2f4f4f"/><rect x="266" y="196" width="3" height="3" fill="#2f4f4f"/><rect x="266.6" y="197" width="1.8" height="1" fill="#3cb371"/><rect x="271" y="185" width="1" height="12" fill="#2f4f4f"/><rect x="270" y="192" width="3" height="4" fill="#2f4f4f"/><rect x="270.6" y="193" width="1.8" height="2" fill="#3cb371"/><rect x="275" y="190" width="1" height="16" fill="#ff0000"/><rect x="274" y="191" width="3" height="14" fill="#ff0000"/><rect x="279" y="202" width="1" height="15" fill="#ff0000"/><rect x="278" y="204" width="3" height="2" fill="#ff0000"/><rect x="283" y="206" width="1" height="13" fill="#ff0000"/><rect x="282" y="210" width="3" height="9" fill="#ff0000"/><rect x="287" y="211" width="1" height="9" fill="#2f4f4f"/><rect x="286" y="214" width="3" height="4" fill="#2f4f4f"/><rect x="286.6" y="215" width="1.8" height="2" fill="#3cb371"/><rect x="291" y="208" width="1" height="11" fill="#2f4f4f"/><rect x="290" y="213" width="3" height="1" fill="#2f4f4f"/><rect x="295" y="207" width="1" height="33" fill="#ff0000"/><rect x="294" y="214" width="3" height="16" fill="#ff0000"/><rect x="299" y="178" width="1" height="55" fill="#2f4f4f"/><rect x="298" y="199" width="3" height="31" fill="#2f4f4f"/><rect x="298.6" y="200" width="1.8" height="29" fill="#3cb371"/><rect x="303" y="199" width="1" height="13" fill="#ff0000"/><rect x="302" y="199" width="3" height="9" fill="#ff0000"/><rect x="307" y="201" width="1" height="15" fill="#2f4f4f"/><rect x="306" y="203" width="3" height="6" fill="#2f4f4f"/><rect x="306.6" y="204" width="1.8" height="4" fill="#3cb371"/><rect x="311" y="198" width="1" height="12" fill="#2f4f4f"/><rect x="310" y="202" width="3" height="1" fill="#2f4f4f"/><rect x="315" y="186" width="1" height="20" fill="#2f4f4f"/><rect x="314" y="196" width="3" height="7" fill="#2f4f4f"/><rect x="314.6" y="197" width="1.8" height="5" fill="#3cb371"/><rect x="319" y="192" width="1" height="15" fill="#ff0000"/><rect x="318" y="196" width="3" height="4" fill="#ff0000"/><rect x="323" y="197" width="1" height="21" fill="#ff0000"/><rect x="322" y="198" width="3" height="18" fill="#ff0000"/><rect x="327" y="215" width="1" height="22" fill="#ff0000"/><rect x="326" y="215" width="3" height="16" fill="#ff0000"/><rect x="331" y="217" width="1" height="15" fill="#2f4f4f"/><rect x="330" y="223" width="3" height="8" fill="#2f4f4f"/><rect x="330.6" y="224" width="1.8" height="6" fill="#3cb371"/><rect x="335" y="221" width="1" height="11" fill="#ff0000"/><rect x="334" y="223" width="3" height="6" fill="#ff0000"/><rect x="339" y="221" width="1" height="27" fill="#ff0000"/><rect x="338" y="228" width="3" height="8" fill="#ff0000"/><rect x="343" y="235" width="1" height="20" fill="#ff0000"/><rect x="342" y="235" width="3" height="12" fill="#ff0000"/><rect x="347" y="241" width="1" height="16" fill="#ff0000"/><rect x="346" y="246" width="3" height="5" fill="#ff0000"/><rect x="351" y="228" width="1" height="32" fill="#2f4f4f"/><rect x="350" y="232" width="3" height="19" fill="#2f4f4f"/><rect x="350.6" y="233" width="1.8" height="17" fill="#3cb371"/><rect x="355" y="223" width="1" height="11" fill="#2f4f4f"/><rect x="354" y="225" width="3" height="8" fill="#2f4f4f"/><rect x="354.6" y="226" width="1.8" height="6" fill="#3cb371"/><rect x="359" y="219" width="1" height="10" fill="#2f4f4f"/><rect x="358" y="224" width="3" height="1" fill="#2f4f4f"/><rect x="363" y="222" width="1" height="14" fill="#2f4f4f"/><rect x="362" y="223" width="3" height="3" fill="#2f4f4f"/><rect x="362.6" y="224" width="1.8" height="1" fill="#3cb371"/><rect x="367" y="222" width="1" height="3" fill="#2f4f4f"/><rect x="366" y="223" width="3" height="1" fill="#2f4f4f"/><rect x="371" y="219" width="1" height="6" fill="#2f4f4f"/><rect x="370" y="223" width="3" height="2" fill="#2f4f4f"/><rect x="375" y="222" width="1" height="4" fill="#ff0000"/><rect x="374" y="223" width="3" height="1" fill="#ff0000"/><rect x="379" y="221" width="1" height="11" fill="#ff0000"/><rect x="378" y="223" width="3" height="5" fill="#ff0000"/><rect x="383" y="221" width="1" height="7" fill="#2f4f4f"/><rect x="382" y="222" width="3" height="5" fill="#2f4f4f"/><rect x="382.6" y="223" width="1.8" height="3" fill="#3cb371"/><rect x="387" y="219" width="1" height="13" fill="#ff0000"/><rect x="386" y="221" width="3" height="11" fill="#ff0000"/><rect x="391" y="219" width="1" height="20" fill="#ff0000"/><rect x="390" y="230" width="3" height="7" fill="#ff0000"/><rect x="395" y="232" width="1" height="14" fill="#ff0000"/><rect x="394" y="236" width="3" height="6" fill="#ff0000"/><rect x="399" y="239" width="1" height="25" fill="#ff0000"/><rect x="398" y="239" width="3" height="24" fill="#ff0000"/><rect x="403" y="257" width="1" height="15" fill="#ff0000"/><rect x="402" y="263" width="3" height="4" fill="#ff0000"/><rect x="407" y="259" width="1" height="12" fill="#2f4f4f"/><rect x="406" y="263" width="3" height="2" fill="#2f4f4f"/><rect x="411" y="258" width="1" height="19" fill="#ff0000"/><rect x="410" y="263" width="3" height="8" fill="#ff0000"/><rect x="415" y="268" width="1" height="21" fill="#ff0000"/><rect x="414" y="269" width="3" height="16" fill="#ff0000"/><rect x="419" y="271" width="1" height="25" fill="#2f4f4f"/><rect x="418" y="276" width="3" height="9" fill="#2f4f4f"/><rect x="418.6" y="277" width="1.8" height="7" fill="#3cb371"/><rect x="423" y="274" width="1" height="19" fill="#ff0000"/><rect x="422" y="276" width="3" height="14" fill="#ff0000"/><rect x="427" y="280" width="1" height="14" fill="#ff0000"/><rect x="426" y="289" width="3" height="4" fill="#ff0000"/><rect x="431" y="285" width="1" height="9" fill="#2f4f4f"/><rect x="430" y="290" width="3" height="3" fill="#2f4f4f"/><rect x="430.6" y="291" width="1.8" height="1" fill="#3cb371"/><rect x="435" y="271" width="1" height="21" fill="#2f4f4f"/><rect x="434" y="276" width="3" height="15" fill="#2f4f4f"/><rect x="434.6" y="277" width="1.8" height="13" fill="#3cb371"/><rect x="439" y="269" width="1" height="20" fill="#ff0000"/><rect x="438" y="276" width="3" height="1" fill="#ff0000"/><rect x="443" y="263" width="1" height="21" fill="#ff0000"/><rect x="442" y="276" width="3" height="1" fill="#ff0000"/><rect x="447" y="258" width="1" height="29" fill="#2f4f4f"/><rect x="446" y="265" width="3" height="12" fill="#2f4f4f"/><rect x="446.6" y="266" width="1.8" height="10" fill="#3cb371"/><rect x="451" y="256" width="1" height="18" fill="#ff0000"/><rect x="450" y="264" width="3" height="10" fill="#ff0000"/><rect x="455" y="259" width="1" height="14" fill="#2f4f4f"/><rect x="454" y="264" width="3" height="9" fill="#2f4f4f"/><rect x="454.6" y="265" width="1.8" height="7" fill="#3cb371"/><rect x="459" y="264" width="1" height="34" fill="#ff0000"/><rect x="458" y="264" width="3" height="14" fill="#ff0000"/><rect x="463" y="277" width="1" height="28" fill="#ff0000"/><rect x="462" y="277" width="3" height="26" fill="#ff0000"/><rect x="467" y="292" width="1" height="14" fill="#ff0000"/><rect x="466" y="301" width="3" height="2" fill="#ff0000"/><rect x="471" y="287" width="1" height="17" fill="#2f4f4f"/><rect x="470" y="293" width="3" height="9" fill="#2f4f4f"/><rect x="470.6" y="294" width="1.8" height="7" fill="#3cb371"/><rect x="475" y="284" width="1" height="15" fill="#2f4f4f"/><rect x="474" y="292" width="3" height="1" fill="#2f4f4f"/><rect x="479" y="287" width="1" height="16" fill="#ff0000"/><rect x="478" y="292" width="3" height="4" fill="#ff0000"/><rect x="483" y="276" width="1" height="22" fill="#2f4f4f"/><rect x="482" y="294" width="3" height="3" fill="#2f4f4f"/><rect x="482.6" y="295" width="1.8" height="1" fill="#3cb371"/><rect x="487" y="253" width="1" height="46" fill="#2f4f4f"/><rect x="486" y="269" width="3" height="25" fill="#2f4f4f"/><rect x="486.6" y="270" width="1.8" height="23" fill="#3cb371"/><rect x="491" y="270" width="1" height="12" fill="#ff0000"/><rect x="490" y="270" width="3" height="4" fill="#ff0000"/><rect x="495" y="260" width="1" height="15" fill="#2f4f4f"/><rect x="494" y="267" width="3" height="6" fill="#2f4f4f"/><rect x="494.6" y="268" width="1.8" height="4" fill="#3cb371"/><rect x="499" y="256" width="1" height="13" fill="#2f4f4f"/><rect x="498" y="264" width="3" height="5" fill="#2f4f4f"/><rect x="498.6" y="265" width="1.8" height="3" fill="#3cb371"/><rect x="503" y="259" width="1" height="10" fill="#ff0000"/><rect x="502" y="264" width="3" height="2" fill="#ff0000"/><rect x="507" y="260" width="1" height="10" fill="#ff0000"/><rect x="506" y="265" width="3" height="2" fill="#ff0000"/></g>
<line x1="161" y1="121.7" x2="642.6" y2="210.5" stroke="#a0bac9" stroke-width="1.25"/>
<line x1="63" y1="232.1" x2="545.2" y2="321.4" stroke="#a0bac9" stroke-width="1.25"/>
<clipPath id="cp"><path clip-rule="evenodd" d="M0,0 H815 V418 H0 Z M69,221 H693 V243 H69 Z"/></clipPath>
<g clip-path="url(#cp)"><rect x="68.5" y="221" width="625" height="22.5" fill="#000" opacity="0.33" filter="url(#sh)"/></g>
<rect x="69.5" y="221.5" width="623" height="21" fill="url(#rg)" stroke="#a9c4e6" stroke-width="1"/>
<line x1="509.5" y1="270" x2="521" y2="253" stroke="#45596a" stroke-width="3.0"/>
<polygon points="527.3,243.2 514.8,249.8 526.8,256.2" fill="#45596a"/>
<line x1="529" y1="243.5" x2="569.5" y2="368.5" stroke="#45596a" stroke-width="3.0"/>
<polygon points="573.2,379 563.2,370.6 576.2,366.2" fill="#45596a"/>
<path fill="url(#lg)" d="M715.1,46.2 H752.5 Q761.3,46.2 761.3,54.5 V65.5 Q761.3,73.1 753.5,73.1 H736.1 V65.3 H751 Q754,65.3 754,62.3 V58.2 Q754,55.2 751,55.2 H726 V90.7 H715.1 Z M736.1,81.3 H751.7 L756.8,90.7 H736.1 Z"/>
<g fill="#000" shape-rendering="crispEdges">
<rect x="2" y="2" width="768" height="1"/>
<rect x="2" y="2" width="1" height="396"/>
<rect x="769" y="2" width="1" height="396"/>
<rect x="2" y="397" width="768" height="1"/>
<rect x="770" y="31" width="2" height="1"/>
<rect x="770" y="64" width="2" height="1"/>
<rect x="770" y="97" width="2" height="1"/>
<rect x="770" y="130" width="2" height="1"/>
<rect x="770" y="163" width="2" height="1"/>
<rect x="770" y="196" width="2" height="1"/>
<rect x="770" y="229" width="2" height="1"/>
<rect x="770" y="262" width="2" height="1"/>
<rect x="770" y="295" width="2" height="1"/>
<rect x="770" y="328" width="2" height="1"/>
<rect x="770" y="361" width="2" height="1"/>
<rect x="770" y="394" width="2" height="1"/>
<rect x="3" y="398" width="1" height="3"/>
<rect x="67" y="398" width="1" height="3"/>
<rect x="131" y="398" width="1" height="3"/>
<rect x="195" y="398" width="1" height="3"/>
<rect x="259" y="398" width="1" height="3"/>
<rect x="323" y="398" width="1" height="3"/>
<rect x="387" y="398" width="1" height="3"/>
<rect x="451" y="398" width="1" height="3"/>
</g>
<g style="opacity:0.999">
<text x="774.6" y="35" textLength="32.6" lengthAdjust="spacingAndGlyphs">0.72560</text>
<text x="774.6" y="68" textLength="32.6" lengthAdjust="spacingAndGlyphs">0.72390</text>
<text x="774.6" y="101" textLength="32.6" lengthAdjust="spacingAndGlyphs">0.72220</text>
<text x="774.6" y="134" textLength="32.6" lengthAdjust="spacingAndGlyphs">0.72050</text>
<text x="774.6" y="167" textLength="32.6" lengthAdjust="spacingAndGlyphs">0.71880</text>
<text x="774.6" y="200" textLength="32.6" lengthAdjust="spacingAndGlyphs">0.71710</text>
<text x="774.6" y="233" textLength="32.6" lengthAdjust="spacingAndGlyphs">0.71540</text>
<text x="774.6" y="266" textLength="32.6" lengthAdjust="spacingAndGlyphs">0.71370</text>
<text x="774.6" y="299" textLength="32.6" lengthAdjust="spacingAndGlyphs">0.71200</text>
<text x="774.6" y="332" textLength="32.6" lengthAdjust="spacingAndGlyphs">0.71030</text>
<text x="774.6" y="365" textLength="32.6" lengthAdjust="spacingAndGlyphs">0.70860</text>
<text x="774.6" y="398" textLength="32.6" lengthAdjust="spacingAndGlyphs">0.70695</text>
<rect x="770" y="267" width="2" height="1" fill="#000"/>
<rect x="772" y="262" width="39" height="11" fill="#000" shape-rendering="crispEdges"/>
<text x="775" y="271" fill="#fff" stroke="#fff" style="stroke:#fff" textLength="32.5" lengthAdjust="spacingAndGlyphs">0.71346</text>
<text x="3" y="410" textLength="48" lengthAdjust="spacingAndGlyphs">16 Jan 2019</text>
<text x="67" y="410" textLength="51" lengthAdjust="spacingAndGlyphs">16 Jan 17:00</text>
<text x="131" y="410" textLength="51" lengthAdjust="spacingAndGlyphs">17 Jan 09:00</text>
<text x="195" y="410" textLength="51" lengthAdjust="spacingAndGlyphs">18 Jan 01:00</text>
<text x="259" y="410" textLength="51" lengthAdjust="spacingAndGlyphs">18 Jan 17:00</text>
<text x="323" y="410" textLength="51" lengthAdjust="spacingAndGlyphs">21 Jan 10:00</text>
<text x="387" y="410" textLength="51" lengthAdjust="spacingAndGlyphs">22 Jan 02:00</text>
<text x="451" y="410" textLength="51" lengthAdjust="spacingAndGlyphs">22 Jan 18:00</text>
<polygon points="6,9 13.2,9 9.6,13" fill="#000"/>
<text x="18" y="14" textLength="55" lengthAdjust="spacingAndGlyphs">AUDUSD,H1</text>
<text x="79.8" y="14" textLength="33" lengthAdjust="spacingAndGlyphs">0.71355</text>
<text x="115.7" y="14" textLength="33" lengthAdjust="spacingAndGlyphs">0.71384</text>
<text x="151.6" y="14" textLength="33" lengthAdjust="spacingAndGlyphs">0.71337</text>
<text x="187.5" y="14" textLength="33" lengthAdjust="spacingAndGlyphs">0.71346</text>
</g>
</svg></body></html>
